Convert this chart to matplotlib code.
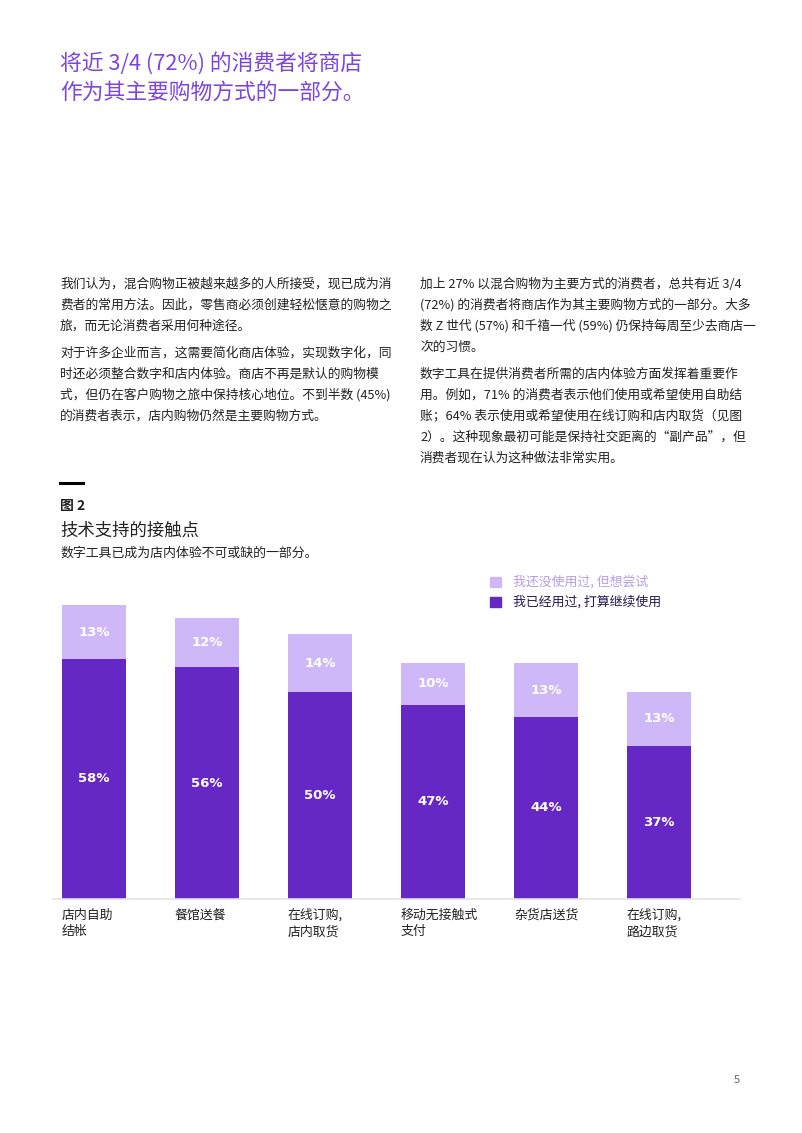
import matplotlib
matplotlib.use("Agg")
import matplotlib.pyplot as plt
import numpy as np

plt.rcParams['font.family'] = ['Noto Sans CJK SC', 'DejaVu Sans']

W, H = 802, 1133
DARK = "#6628c4"
LIGHT = "#cfb8f8"
TITLE_C = "#7b45de"
TXT = "#222222"

# --- data ---
categories = ["店内自助\n结帐", "餐馆送餐", "在线订购,\n店内取货", "移动无接触式\n支付", "杂货店送货", "在线订购,\n路边取货"]
used = [58, 56, 50, 47, 44, 37]          # 我已经用过, 打算继续使用
want = [13, 12, 14, 10, 13, 13]          # 我还没使用过, 但想尝试
legend_labels = ["我还没使用过, 但想尝试", "我已经用过, 打算继续使用"]

title_lines = ["将近 3/4 (72%) 的消费者将商店", "作为其主要购物方式的一部分。"]
left_para = [
    ["我们认为，混合购物正被越来越多的人所接受，现已成为消",
     "费者的常用方法。因此，零售商必须创建轻松惬意的购物之",
     "旅，而无论消费者采用何种途径。"],
    ["对于许多企业而言，这需要简化商店体验，实现数字化，同",
     "时还必须整合数字和店内体验。商店不再是默认的购物模",
     "式，但仍在客户购物之旅中保持核心地位。不到半数 (45%)",
     "的消费者表示，店内购物仍然是主要购物方式。"],
]
right_para = [
    ["加上 27% 以混合购物为主要方式的消费者，总共有近 3/4",
     "(72%) 的消费者将商店作为其主要购物方式的一部分。大多",
     "数 Z 世代 (57%) 和千禧一代 (59%) 仍保持每周至少去商店一",
     "次的习惯。"],
    ["数字工具在提供消费者所需的店内体验方面发挥着重要作",
     "用。例如，71% 的消费者表示他们使用或希望使用自助结",
     "账；64% 表示使用或希望使用在线订购和店内取货（见图",
     "2）。这种现象最初可能是保持社交距离的“副产品”，但",
     "消费者现在认为这种做法非常实用。"],
]

fig = plt.figure(figsize=(W / 100, H / 100), dpi=100)
fig.patch.set_facecolor("white")

def put(x, y, s, **kw):
    kw.setdefault("va", "center")
    kw.setdefault("ha", "left")
    fig.text(x / W, 1 - y / H, s, **kw)

# title
for i, line in enumerate(title_lines):
    put(60, 63 + 30 * i, line, fontsize=15.7, color=TITLE_C)

# body columns
def column(x, y0, paras):
    y = y0
    for p in paras:
        for line in p:
            put(x, y, line, fontsize=9.2, color=TXT)
            y += 21
        y += 6

column(60, 284, left_para)
column(420, 284, right_para)

# figure header
fig.add_artist(plt.Line2D([60 / W, 83 / W], [1 - 483 / H] * 2, color="black", lw=2.2))
put(60, 506, "图 2", fontsize=10, weight="bold", color=TXT)
put(60, 531, "技术支持的接触点", fontsize=12.5, color=TXT)
put(60, 553, "数字工具已成为店内体验不可或缺的一部分。", fontsize=9.3, color=TXT)

# page number
put(737, 1080, "5", fontsize=8, color="#666666", ha="center")

# --- chart ---
ax = fig.add_axes([53 / W, 1 - 899 / H, 687 / W, 300 / H])
x = np.arange(len(categories))
bw = 64 / 113
ax.bar(x, used, bw, color=DARK, label=legend_labels[1])
ax.bar(x, want, bw, bottom=used, color=LIGHT, label=legend_labels[0])
for xi, u, w in zip(x, used, want):
    ax.text(xi, u / 2, f"{u}%", ha="center", va="center", color="white",
            fontsize=9.5, weight="bold", family="DejaVu Sans")
    ax.text(xi, u + w / 2, f"{w}%", ha="center", va="center", color="white",
            fontsize=9.5, weight="bold", family="DejaVu Sans")
for xi, c in zip(x, categories):
    ax.annotate(c, (xi - bw / 2, 0), xytext=(0, -7), textcoords="offset points",
                ha="left", va="top", fontsize=9.3, color=TXT, linespacing=1.35)
ax.set_xlim(-(94 - 53) / 113, 5 + (740 - 659) / 113)
ax.set_ylim(0, 72.5)
for s in ["top", "right", "left"]:
    ax.spines[s].set_visible(False)
ax.spines["bottom"].set_color("#e3e3e3")
ax.spines["bottom"].set_linewidth(1.2)
ax.set_xticks([])
ax.set_yticks([])

# legend
for i, (lab, col, tc) in enumerate([(legend_labels[0], LIGHT, "#b79ee8"),
                                    (legend_labels[1], DARK, "#2a1a55")]):
    y = 582 + 20 * i
    fig.add_artist(plt.Rectangle((490 / W, 1 - (y + 5) / H), 11 / W, 10 / H, color=col))
    put(513, y, lab, fontsize=9.3, color=tc)

fig.savefig("out.png", dpi=100)
